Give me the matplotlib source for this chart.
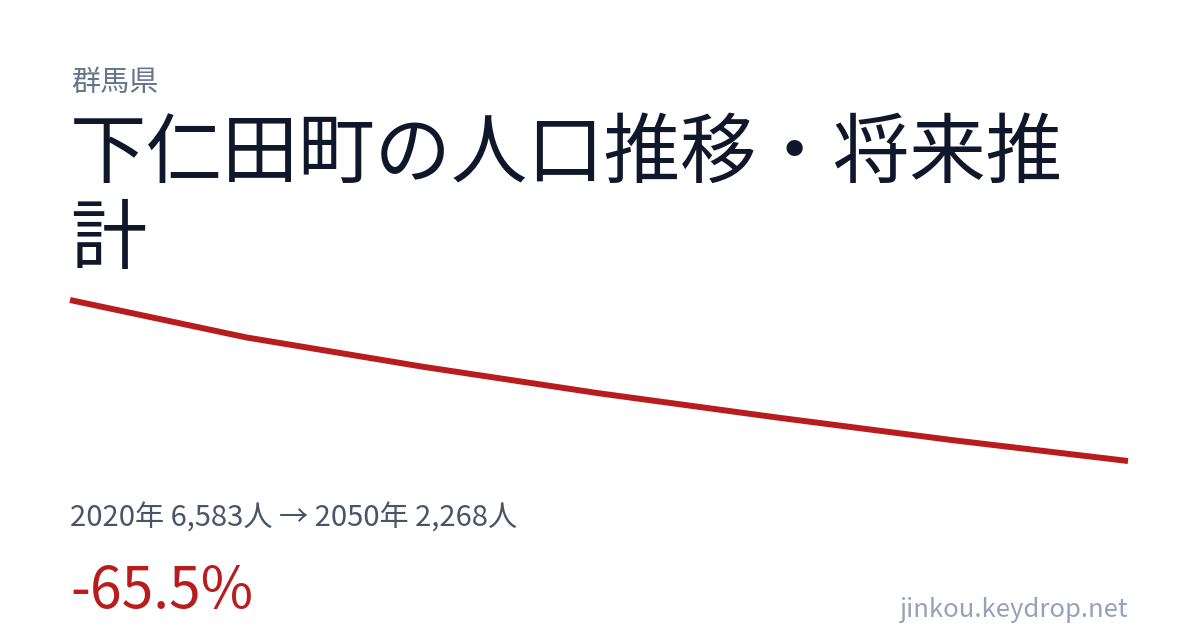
import numpy as np
import matplotlib
matplotlib.use("Agg")
import matplotlib.pyplot as plt

plt.rcParams['font.family'] = ['Noto Sans CJK JP', 'DejaVu Sans']

# data
years = [2020, 2025, 2030, 2035, 2040, 2045, 2050]
population = [6583, 5580, 4795, 4083, 3440, 2830, 2268]

prefecture = "群馬県"
title_lines = ["下仁田町の人口推移・将来推", "計"]
summary = f"{years[0]}年 {population[0]:,}人 → {years[-1]}年 {population[-1]:,}人"
change = (population[-1] - population[0]) / population[0] * 100
site = "jinkou.keydrop.net"

W, H = 1200, 630
fig = plt.figure(figsize=(W / 100, H / 100), dpi=100)
fig.patch.set_facecolor('white')

def px(x, y):
    # pixel coords from top-left -> figure fraction
    return x / W, 1 - y / H

# line chart area
left, right, top, bottom = 70, 1128, 300, 461
ax = fig.add_axes([left / W, 1 - bottom / H, (right - left) / W, (bottom - top) / H])
ax.plot(years, population, color='#b91c1c', linewidth=4.3, solid_capstyle='butt', clip_on=False)
ax.set_xlim(years[0], years[-1])
ax.set_ylim(min(population), max(population))
ax.axis('off')

fig.text(*px(71, 91), prefecture, fontsize=21, color='#64748b', va='baseline')
fig.text(*px(70, 177), title_lines[0], fontsize=55, color='#0f172a', va='baseline')
fig.text(*px(70, 263), title_lines[1], fontsize=55, color='#0f172a', va='baseline')
fig.text(*px(70, 527), summary, fontsize=21, color='#475569', va='baseline')
fig.text(*px(70, 608), f"{change:.1f}%", fontsize=41, color='#b91c1c', va='baseline')
fig.text(*px(1128, 617), site, fontsize=18.5, color='#94a3b8', va='baseline', ha='right')

fig.savefig('out.png', dpi=100, facecolor='white')
